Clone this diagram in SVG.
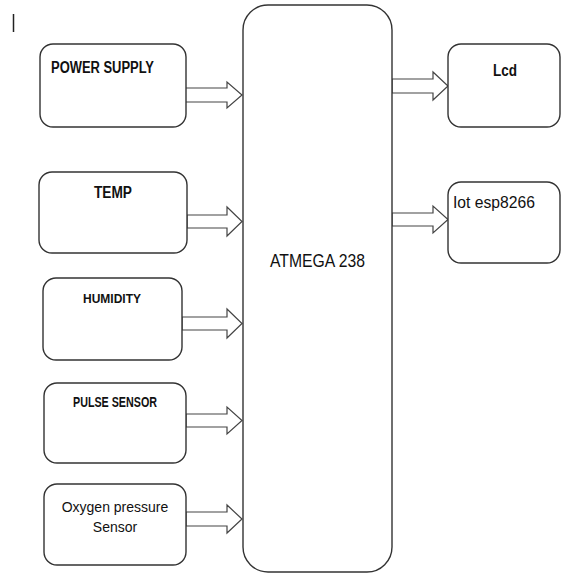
<svg xmlns="http://www.w3.org/2000/svg" width="561" height="574" viewBox="0 0 561 574">
<style>
.box{fill:#fff;stroke:#333;stroke-width:1.4}
.arr{fill:#fff;stroke:#444;stroke-width:1.2;stroke-linejoin:miter}
.b{font-family:"Liberation Sans",Arial,sans-serif;font-weight:bold;fill:#111}
.r{font-family:"Liberation Sans",Arial,sans-serif;fill:#111}
</style>
<rect width="561" height="574" fill="#fff"/>
<line x1="13.5" y1="14" x2="13.5" y2="32" stroke="#222" stroke-width="1.5"/>
<g id="connectors">
<path class="arr" d="M185 88H227V82L242 95L227 108V102H185Z"/>
<path class="arr" d="M187 215H227V207L242 221.5L227 236V228H187Z"/>
<path class="arr" d="M182 317H227V309L242 323.5L227 338V330H182Z"/>
<path class="arr" d="M186 414H227V407L242 420.5L227 434V427H186Z"/>
<path class="arr" d="M186 512H227V505L242 519L227 533V526H186Z"/>
<path class="arr" d="M392 79H433V72L448 86L433 100V93H392Z"/>
<path class="arr" d="M392 213H433V206L448 219.5L433 233V226H392Z"/>
</g>
<g id="atmega">
<rect class="box" x="243" y="5" width="149" height="567" rx="25"/>
<text class="r" x="270" y="267" font-size="19" textLength="95" lengthAdjust="spacingAndGlyphs">ATMEGA 238</text>
</g>
<g id="power">
<rect class="box" x="40" y="44" width="146" height="83" rx="13"/>
<text class="b" x="51" y="73" font-size="16" textLength="103" lengthAdjust="spacingAndGlyphs">POWER SUPPLY</text>
</g>
<g id="temp">
<rect class="box" x="39" y="172" width="148" height="81" rx="13"/>
<text class="b" x="94" y="198" font-size="16" textLength="38" lengthAdjust="spacingAndGlyphs">TEMP</text>
</g>
<g id="humidity">
<rect class="box" x="43" y="278" width="139" height="82" rx="13"/>
<text class="b" x="83" y="303" font-size="13" textLength="58" lengthAdjust="spacingAndGlyphs">HUMIDITY</text>
</g>
<g id="pulse">
<rect class="box" x="44" y="383" width="142" height="80" rx="13"/>
<text class="b" x="73" y="407" font-size="14" textLength="84" lengthAdjust="spacingAndGlyphs">PULSE SENSOR</text>
</g>
<g id="oxygen">
<rect class="box" x="44" y="484" width="142" height="81" rx="13"/>
<text class="r" x="115" y="512" font-size="14" text-anchor="middle">Oxygen pressure</text>
<text class="r" x="115" y="532" font-size="14" text-anchor="middle">Sensor</text>
</g>
<g id="lcd">
<rect class="box" x="448" y="44" width="112" height="83" rx="13"/>
<text class="b" x="493" y="76" font-size="17" textLength="24" lengthAdjust="spacingAndGlyphs">Lcd</text>
</g>
<g id="iot">
<rect class="box" x="448" y="182" width="112" height="81" rx="13"/>
<text class="r" x="453" y="208" font-size="17" textLength="82" lengthAdjust="spacingAndGlyphs">Iot esp8266</text>
</g>
</svg>
